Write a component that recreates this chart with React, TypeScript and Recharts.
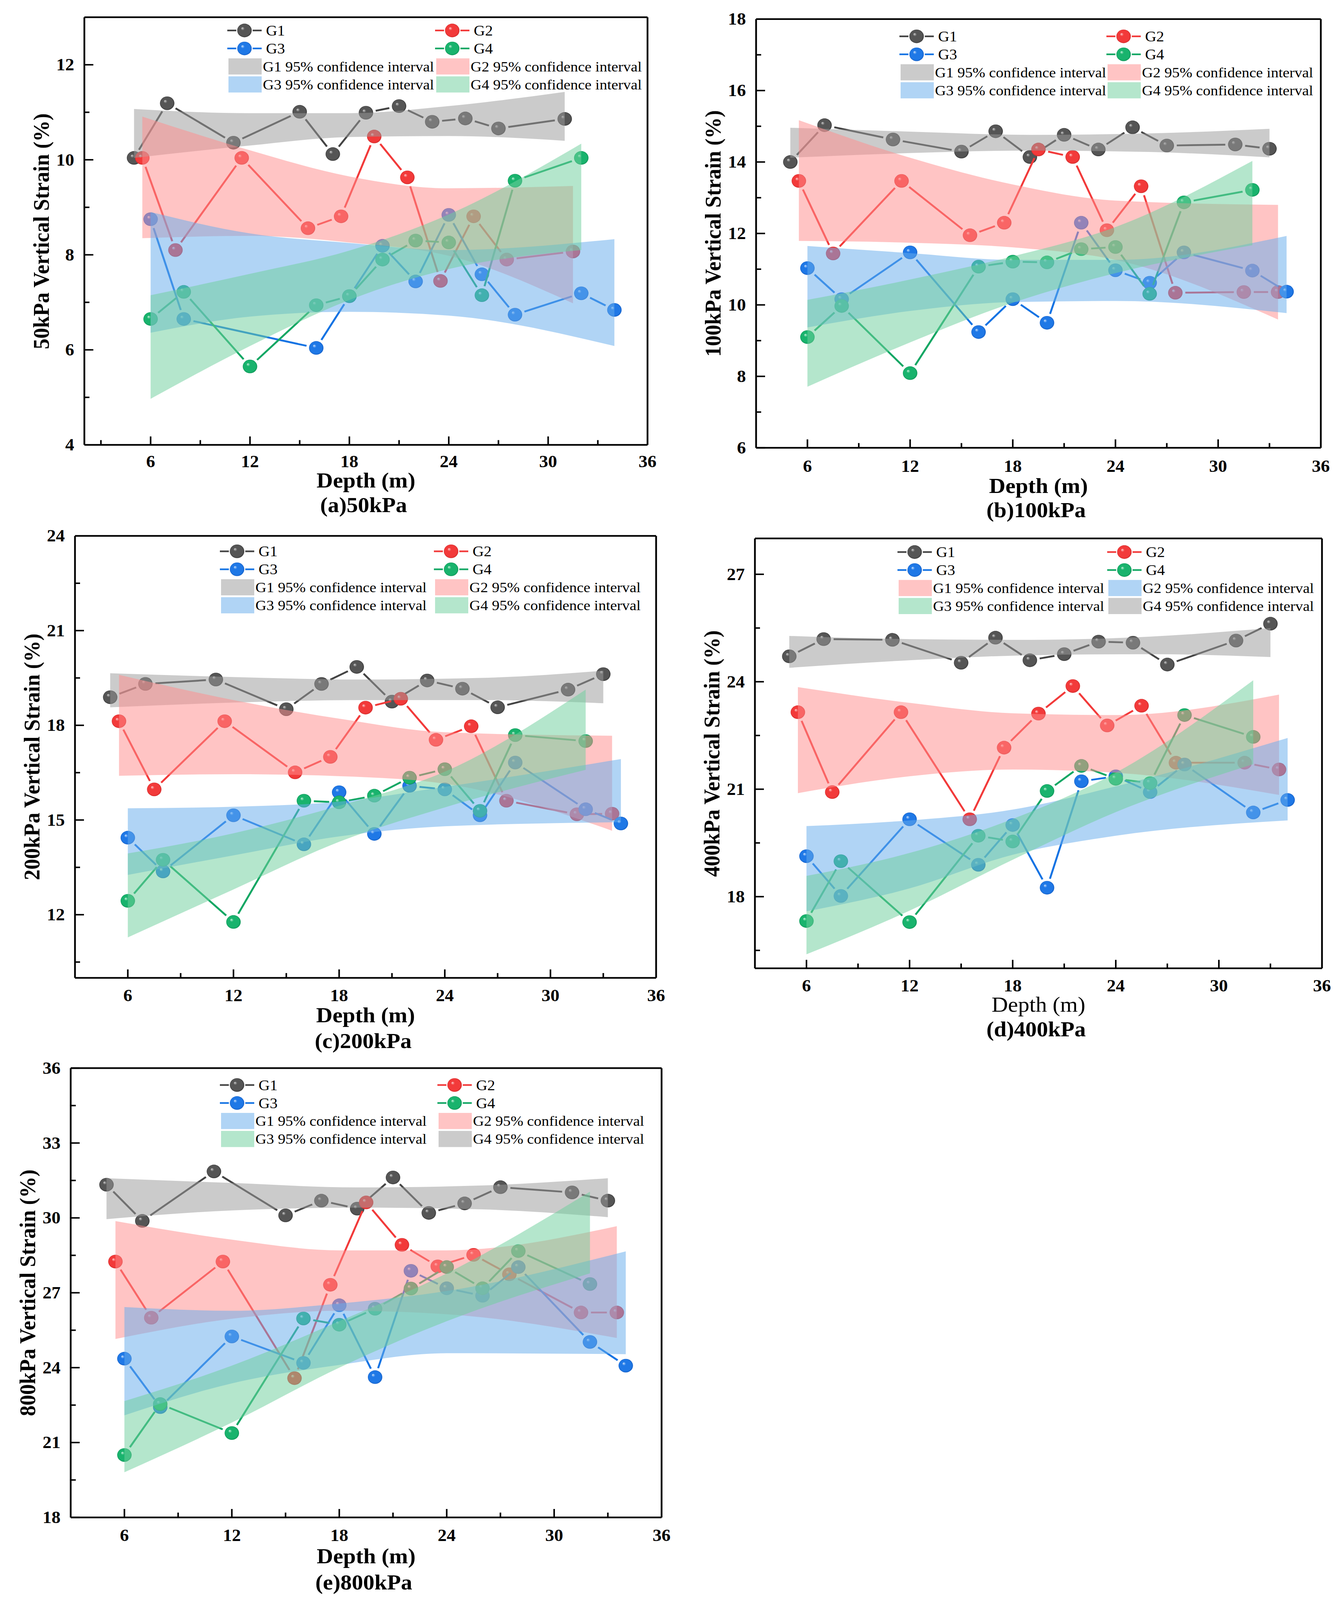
import React from 'react';
import { ComposedChart, Line, Area, XAxis, YAxis, ReferenceLine, Legend } from 'recharts';

const FONT = '"Liberation Serif", "Times New Roman", serif';

// depths (m) of each group
const depthG1 = [5, 7, 11, 15, 17, 19, 21, 23, 25, 27, 31, 33];
const depthG2 = [5.5, 7.5, 11.5, 15.5, 17.5, 19.5, 21.5, 23.5, 25.5, 27.5, 31.5, 33.5];
const depthG3 = [6, 8, 12, 16, 18, 20, 22, 24, 26, 28, 32, 34];
const depthG4 = [6, 8, 12, 16, 18, 20, 22, 24, 26, 28, 32];
const depthG1a = [5, 7, 11, 15, 17, 19, 21, 23, 25, 27, 31];
const depthG2a = [5.5, 7.5, 11.5, 15.5, 17.5, 19.5, 21.5, 23.5, 25.5, 27.5, 31.5];
const depthG3a = [6, 8, 16, 18, 20, 22, 24, 26, 28, 32, 34];

// depths where the confidence bands were read
const bandXG1 = [5, 12, 19, 26, 33];
const bandXG1a = [5, 12, 18, 24, 31];
const bandXG2 = [5.5, 12, 18, 24, 33.5];
const bandXG2a = [5.5, 12, 18, 24, 31.5];
const bandXG3 = [6, 12, 18, 24, 34];
const bandXG4 = [6, 12, 18, 24, 32];

// (a) 50kPa
const a_g1 = [10.04, 11.19, 10.36, 11.01, 10.12, 10.99, 11.13, 10.8, 10.87, 10.66, 10.86];
const a_g2 = [10.04, 8.1, 10.04, 8.56, 8.81, 10.49, 9.63, 7.45, 8.81, 7.9, 8.07];
const a_g3 = [8.75, 6.65, 6.04, 7.13, 8.19, 7.44, 8.84, 7.59, 6.74, 7.19, 6.84];
const a_g4 = [6.65, 7.22, 5.65, 6.94, 7.13, 7.9, 8.3, 8.26, 7.15, 9.56, 10.04];
const a_g1Lo = [10.04, 10.3, 10.48, 10.5, 10.4];
const a_g1Hi = [11.07, 10.98, 10.98, 11.13, 11.43];
const a_g2Lo = [8.35, 8.4, 8.26, 7.98, 6.98];
const a_g2Hi = [10.91, 10.2, 9.65, 9.4, 9.45];
const a_g3Lo = [6.36, 6.7, 6.8, 6.72, 6.08];
const a_g3Hi = [8.9, 8.45, 8.25, 8.1, 8.33];
const a_g4Lo = [4.97, 6.08, 7.05, 7.7, 8.1];
const a_g4Hi = [7.15, 7.6, 8.09, 8.85, 10.34];

// (b) 100kPa
const b_g1 = [14.0, 15.03, 14.63, 14.29, 14.86, 14.14, 14.76, 14.35, 14.97, 14.46, 14.49, 14.37];
const b_g2 = [13.47, 11.44, 13.47, 11.95, 12.3, 14.35, 14.14, 12.09, 13.32, 10.34, 10.36, 10.36];
const b_g3 = [11.03, 10.16, 11.47, 9.24, 10.16, 9.5, 12.3, 10.97, 10.62, 11.47, 10.96, 10.37];
const b_g4 = [9.1, 9.97, 8.09, 11.07, 11.21, 11.19, 11.56, 11.62, 10.31, 12.87, 13.22];
const b_g1Lo = [14.12, 14.25, 14.32, 14.28, 14.13];
const b_g1Hi = [14.96, 14.85, 14.76, 14.8, 14.93];
const b_g2Lo = [11.79, 11.74, 11.61, 11.26, 9.59];
const b_g2Hi = [15.17, 14.12, 13.37, 12.92, 12.8];
const b_g3Lo = [9.37, 9.83, 10.08, 10.11, 9.77];
const b_g3Hi = [11.65, 11.45, 11.26, 11.26, 11.93];
const b_g4Lo = [7.71, 8.95, 10.06, 10.89, 11.67];
const b_g4Hi = [10.14, 10.71, 11.36, 12.18, 14.03];

// (c) 200kPa
const c_g1 = [18.89, 19.31, 19.45, 18.51, 19.31, 19.85, 18.75, 19.42, 19.16, 18.57, 19.13, 19.62];
const c_g2 = [18.13, 15.97, 18.13, 16.51, 17.0, 18.56, 18.84, 17.54, 17.97, 15.61, 15.18, 15.2];
const c_g3 = [14.44, 13.37, 15.15, 14.23, 15.88, 14.56, 16.08, 15.97, 15.15, 16.82, 15.34, 14.89];
const c_g4 = [12.44, 13.74, 11.77, 15.61, 15.56, 15.77, 16.34, 16.61, 15.29, 17.69, 17.5];
const c_g1Lo = [18.57, 18.72, 18.8, 18.8, 18.7];
const c_g1Hi = [19.65, 19.53, 19.45, 19.5, 19.73];
const c_g2Lo = [16.4, 16.45, 16.39, 16.15, 14.66];
const c_g2Hi = [19.6, 18.8, 18.21, 17.78, 17.67];
const c_g3Lo = [13.26, 13.88, 14.48, 14.8, 14.93];
const c_g3Hi = [15.37, 15.42, 15.58, 16.05, 16.93];
const c_g4Lo = [11.28, 12.8, 14.31, 15.4, 16.59];
const c_g4Hi = [13.94, 14.58, 15.45, 16.53, 19.13];

// (d) 400kPa
const d_g1 = [24.71, 25.19, 25.17, 24.53, 25.23, 24.6, 24.77, 25.12, 25.09, 24.48, 25.15, 25.62];
const d_g2 = [23.15, 20.92, 23.15, 20.16, 22.16, 23.11, 23.88, 22.78, 23.33, 21.74, 21.74, 21.55];
const d_g3 = [19.13, 18.02, 20.16, 18.89, 20.0, 18.25, 21.22, 21.36, 20.92, 21.69, 20.35, 20.7];
const d_g4 = [17.32, 18.99, 17.29, 19.7, 19.54, 20.95, 21.65, 21.29, 21.17, 23.07, 22.46];
const d_g1Lo = [24.39, 24.6, 24.74, 24.77, 24.69];
const d_g1Hi = [25.28, 25.19, 25.17, 25.26, 25.5];
const d_g2Lo = [20.89, 21.36, 21.55, 21.46, 20.84];
const d_g2Hi = [23.85, 23.41, 23.12, 23.07, 23.64];
const d_g3Lo = [17.59, 18.23, 19.17, 19.7, 20.13];
const d_g3Hi = [19.97, 20.13, 20.43, 21.08, 22.43];
const d_g4Lo = [16.39, 17.61, 19.03, 20.36, 21.7];
const d_g4Hi = [18.58, 19.22, 20.17, 21.46, 24.04];

// (e) 800kPa
const e_g1 = [31.33, 29.88, 31.86, 30.1, 30.69, 30.37, 31.62, 30.2, 30.58, 31.23, 31.02, 30.69];
const e_g2 = [28.25, 26.0, 28.25, 23.58, 27.32, 30.62, 28.92, 28.06, 28.52, 27.74, 26.21, 26.21];
const e_g3 = [24.36, 22.42, 25.25, 24.19, 26.5, 23.62, 27.88, 27.18, 26.88, 28.03, 25.03, 24.08];
const e_g4 = [20.5, 22.54, 21.38, 25.97, 25.72, 26.36, 27.17, 28.03, 27.18, 28.67, 27.35];
const e_g1Lo = [29.95, 30.3, 30.41, 30.34, 30.03];
const e_g1Hi = [31.59, 31.4, 31.22, 31.3, 31.59];
const e_g2Lo = [25.15, 25.96, 26.28, 26.14, 25.19];
const e_g2Hi = [29.87, 29.13, 28.7, 28.7, 29.67];
const e_g3Lo = [22.09, 23.37, 24.11, 24.58, 24.54];
const e_g3Hi = [26.43, 26.28, 26.57, 27.07, 28.66];
const e_g4Lo = [19.81, 21.8, 24.0, 25.86, 27.78];
const e_g4Hi = [22.66, 24.08, 25.86, 27.78, 31.05];

// tick labels
const xMajor = [6, 12, 18, 24, 30, 36];
const xMinor = [3, 9, 15, 21, 27, 33];
const groups = ['G1', 'G2', 'G3', 'G4'];

const LINE_COLORS = ['#444444', '#f23a3a', '#1473e3', '#13a764'];
const BAND_COLORS = ['#9b9b9b', '#ff8d8d', '#67acec', '#6fcf9d'];
const BAND_OPACITY = 0.52;
const SPHERE = [
  ['#d4d4d4', '#555555', '#3a3a3a'],
  ['#ffd2d2', '#f23a3a', '#d42a2a'],
  ['#d0e6ff', '#1f78e6', '#1560c8'],
  ['#ccf4df', '#19b36d', '#0f9658'],
];
const R_DOT = 18.5;
const GAP = R_DOT + 7;

type Pt = { x: number; y: number };
type BandPt = { x: number; band: [number, number] };

const toPoints = (xs: number[], ys: number[]): Pt[] => xs.map((x, i) => ({ x, y: ys[i] }));
const toBand = (xs: number[], lo: number[], hi: number[]): BandPt[] =>
  xs.map((x, i) => ({ x, band: [lo[i], hi[i]] }));

interface PanelCfg {
  id: string;
  box: { L: number; T: number; R: number; B: number };
  xDomain: [number, number];
  yDomain: [number, number];
  yMajor: number[];
  yMinor: number[];
  lines: Pt[][];
  bands: BandPt[][];
  swatch: number[];
  yTitle: string;
  xTitleBold: boolean;
  caption: string;
  tickDy: number;
  depthDy: number;
  capDy: number;
  legendTop: number;
  legendCols: [number, number];
}

const panels: PanelCfg[] = [
  {
    id: 'a',
    box: { L: 216, T: 47, R: 1658, B: 1212 },
    xDomain: [2, 36],
    yDomain: [4, 13],
    yMajor: [4, 6, 8, 10, 12],
    yMinor: [5, 7, 9, 11],
    lines: [toPoints(depthG1a, a_g1), toPoints(depthG2a, a_g2), toPoints(depthG3a, a_g3), toPoints(depthG4, a_g4)],
    bands: [
      toBand(bandXG1a, a_g1Lo, a_g1Hi),
      toBand(bandXG2a, a_g2Lo, a_g2Hi),
      toBand(bandXG3, a_g3Lo, a_g3Hi),
      toBand(bandXG4, a_g4Lo, a_g4Hi),
    ],
    swatch: [0, 1, 2, 3],
    yTitle: '50kPa Vertical Strain (%)',
    xTitleBold: true,
    caption: '(a)50kPa',
    tickDy: 45,
    depthDy: 97,
    capDy: 164,
    legendTop: 36,
    legendCols: [366, 898],
  },
  {
    id: 'b',
    box: { L: 1936, T: 52, R: 3382, B: 1220 },
    xDomain: [3, 36],
    yDomain: [6, 18],
    yMajor: [6, 8, 10, 12, 14, 16, 18],
    yMinor: [7, 9, 11, 13, 15, 17],
    lines: [toPoints(depthG1, b_g1), toPoints(depthG2, b_g2), toPoints(depthG3, b_g3), toPoints(depthG4, b_g4)],
    bands: [
      toBand(bandXG1, b_g1Lo, b_g1Hi),
      toBand(bandXG2, b_g2Lo, b_g2Hi),
      toBand(bandXG3, b_g3Lo, b_g3Hi),
      toBand(bandXG4, b_g4Lo, b_g4Hi),
    ],
    swatch: [0, 1, 2, 3],
    yTitle: '100kPa Vertical Strain (%)',
    xTitleBold: true,
    caption: '(b)100kPa',
    tickDy: 50,
    depthDy: 104,
    capDy: 170,
    legendTop: 47,
    legendCols: [367, 897],
  },
  {
    id: 'c',
    box: { L: 192, T: 1460, R: 1680, B: 2664 },
    xDomain: [3, 36],
    yDomain: [10, 24],
    yMajor: [12, 15, 18, 21, 24],
    yMinor: [10.5, 13.5, 16.5, 19.5, 22.5],
    lines: [toPoints(depthG1, c_g1), toPoints(depthG2, c_g2), toPoints(depthG3, c_g3), toPoints(depthG4, c_g4)],
    bands: [
      toBand(bandXG1, c_g1Lo, c_g1Hi),
      toBand(bandXG2, c_g2Lo, c_g2Hi),
      toBand(bandXG3, c_g3Lo, c_g3Hi),
      toBand(bandXG4, c_g4Lo, c_g4Hi),
    ],
    swatch: [0, 1, 2, 3],
    yTitle: '200kPa Vertical Strain (%)',
    xTitleBold: true,
    caption: '(c)200kPa',
    tickDy: 48,
    depthDy: 102,
    capDy: 172,
    legendTop: 42,
    legendCols: [371, 919],
  },
  {
    id: 'd',
    box: { L: 1933, T: 1467, R: 3385, B: 2638 },
    xDomain: [3, 36],
    yDomain: [16, 28],
    yMajor: [18, 21, 24, 27],
    yMinor: [16.5, 19.5, 22.5, 25.5],
    lines: [toPoints(depthG1, d_g1), toPoints(depthG2, d_g2), toPoints(depthG3, d_g3), toPoints(depthG4, d_g4)],
    bands: [
      toBand(bandXG1, d_g1Lo, d_g1Hi),
      toBand(bandXG2, d_g2Lo, d_g2Hi),
      toBand(bandXG3, d_g3Lo, d_g3Hi),
      toBand(bandXG4, d_g4Lo, d_g4Hi),
    ],
    swatch: [1, 2, 3, 0],
    yTitle: '400kPa Vertical Strain (%)',
    xTitleBold: false,
    caption: '(d)400kPa',
    tickDy: 48,
    depthDy: 99,
    capDy: 166,
    legendTop: 37,
    legendCols: [365, 902],
  },
  {
    id: 'e',
    box: { L: 181, T: 2910, R: 1694, B: 4134 },
    xDomain: [3, 36],
    yDomain: [18, 36],
    yMajor: [18, 21, 24, 27, 30, 33, 36],
    yMinor: [19.5, 22.5, 25.5, 28.5, 31.5, 34.5],
    lines: [toPoints(depthG1, e_g1), toPoints(depthG2, e_g2), toPoints(depthG3, e_g3), toPoints(depthG4, e_g4)],
    bands: [
      toBand(bandXG1, e_g1Lo, e_g1Hi),
      toBand(bandXG2, e_g2Lo, e_g2Hi),
      toBand(bandXG3, e_g3Lo, e_g3Hi),
      toBand(bandXG4, e_g4Lo, e_g4Hi),
    ],
    swatch: [2, 1, 3, 0],
    yTitle: '800kPa Vertical Strain (%)',
    xTitleBold: true,
    caption: '(e)800kPa',
    tickDy: 49,
    depthDy: 106,
    capDy: 177,
    legendTop: 46,
    legendCols: [382, 939],
  },
];

const AXIS_W = 4.5;
const M_TOP = 40;
const M_RIGHT = 30;
const Y_W = 200;
const X_H = 80;

function SphereDefs({ id }: { id: string }) {
  return (
    <defs>
      {SPHERE.map((c, i) => (
        <radialGradient key={i} id={`${id}-s${i}`} cx="50%" cy="50%" r="50%" fx="34%" fy="32%">
          <stop offset="0%" stopColor={c[0]} />
          <stop offset="26%" stopColor={c[1]} />
          <stop offset="85%" stopColor={c[1]} />
          <stop offset="100%" stopColor={c[2]} />
        </radialGradient>
      ))}
    </defs>
  );
}

// each dot draws its sphere plus the segment to the next point, leaving a gap round the symbols
const lineDot = (gid: string, color: string) => (props: any) => {
  const { cx, cy, index, points } = props;
  if (cx == null || cy == null) return <g key={`n-${index}`} />;
  const next = points ? points[index + 1] : null;
  let seg = null;
  if (next && next.x != null && next.y != null) {
    const dx = next.x - cx;
    const dy = next.y - cy;
    const len = Math.hypot(dx, dy);
    if (len > 2 * GAP) {
      const ux = dx / len;
      const uy = dy / len;
      seg = (
        <line
          x1={cx + ux * GAP}
          y1={cy + uy * GAP}
          x2={next.x - ux * GAP}
          y2={next.y - uy * GAP}
          stroke={color}
          strokeWidth={5}
        />
      );
    }
  }
  return (
    <g key={`d-${index}`}>
      {seg}
      <circle cx={cx} cy={cy} r={R_DOT} fill={`url(#${gid})`} />
    </g>
  );
};

function XTick(props: any) {
  const { x, y, payload, dy } = props;
  const major = xMajor.includes(payload.value);
  return (
    <g>
      <line x1={x} x2={x} y1={y} y2={y - (major ? 23 : 13)} stroke="#000" strokeWidth={4} />
      {major && (
        <text x={x} y={y + dy} textAnchor="middle" dominantBaseline="central" fontFamily={FONT} fontWeight="bold" fontSize={46} fill="#000">
          {payload.value}
        </text>
      )}
    </g>
  );
}

function YTick(props: any) {
  const { x, y, payload, major } = props;
  const isMajor = major.includes(payload.value);
  return (
    <g>
      <line x1={x} x2={x + (isMajor ? 23 : 13)} y1={y} y2={y} stroke="#000" strokeWidth={4} />
      {isMajor && (
        <text x={x - 26} y={y} textAnchor="end" dominantBaseline="central" fontFamily={FONT} fontWeight="bold" fontSize={46} fill="#000">
          {payload.value}
        </text>
      )}
    </g>
  );
}

function PanelLegend({ cfg, width, gid }: { cfg: PanelCfg; width: number; gid: string }) {
  const rowGap = 49;
  const rows = [0, 1, 2, 3].map((i) => cfg.legendTop + i * rowGap);
  const series = (g: number, c: number, y: number) => (
    <g key={`s${g}`}>
      <line x1={c} x2={c + 23} y1={y} y2={y} stroke={LINE_COLORS[g]} strokeWidth={4.5} />
      <line x1={c + 65} x2={c + 88} y1={y} y2={y} stroke={LINE_COLORS[g]} strokeWidth={4.5} />
      <circle cx={c + 44} cy={y} r={R_DOT} fill={`url(#${gid}-s${g})`} />
      <text x={c + 99} y={y} dominantBaseline="central" fontFamily={FONT} fontSize={40} fill="#000">
        {groups[g]}
      </text>
    </g>
  );
  const swatch = (g: number, c: number, y: number) => (
    <g key={`w${g}`}>
      <rect x={c + 3} y={y - 22} width={85} height={44} fill={BAND_COLORS[cfg.swatch[g]]} fillOpacity={BAND_OPACITY} />
      <text x={c + 91} y={y} dominantBaseline="central" fontFamily={FONT} fontSize={39} fill="#000">
        {`${groups[g]} 95% confidence interval`}
      </text>
    </g>
  );
  const [c1, c2] = cfg.legendCols;
  return (
    <svg width={width} height={260} style={{ overflow: 'visible', display: 'block' }}>
      <SphereDefs id={gid} />
      {series(0, c1, rows[0])}
      {series(1, c2, rows[0])}
      {series(2, c1, rows[1])}
      {series(3, c2, rows[1])}
      {swatch(0, c1, rows[2])}
      {swatch(1, c2, rows[2])}
      {swatch(2, c1, rows[3])}
      {swatch(3, c2, rows[3])}
    </svg>
  );
}

function Panel({ cfg }: { cfg: PanelCfg }) {
  const { L, T, R, B } = cfg.box;
  const plotW = R - L;
  const plotH = B - T;
  const width = plotW + Y_W + M_RIGHT;
  const height = plotH + M_TOP + X_H;
  const yTicks = [...cfg.yMajor, ...cfg.yMinor].sort((p, q) => p - q);
  const xTicks = [...xMajor, ...xMinor].filter((v) => v >= cfg.xDomain[0]).sort((p, q) => p - q);
  const layer: React.CSSProperties = { position: 'absolute', left: L - Y_W, top: T - M_TOP };
  const titleStyle: React.CSSProperties = {
    position: 'absolute',
    whiteSpace: 'nowrap',
    fontFamily: FONT,
    fontSize: 58,
    fontWeight: 'bold',
    color: '#000',
    lineHeight: 1,
  };
  return (
    <>
      {/* lines, symbols and axes */}
      <div style={layer}>
        <ComposedChart width={width} height={height} margin={{ top: M_TOP, right: M_RIGHT, bottom: 0, left: 0 }}>
          <SphereDefs id={cfg.id} />
          <XAxis
            type="number"
            dataKey="x"
            domain={cfg.xDomain}
            allowDataOverflow
            ticks={xTicks}
            interval={0}
            height={X_H}
            tickSize={0}
            tickMargin={0}
            tickLine={false}
            axisLine={{ stroke: '#000', strokeWidth: AXIS_W }}
            tick={(p: any) => <XTick {...p} dy={cfg.tickDy} />}
          />
          <YAxis
            type="number"
            domain={cfg.yDomain}
            allowDataOverflow
            ticks={yTicks}
            interval={0}
            width={Y_W}
            tickSize={0}
            tickMargin={0}
            tickLine={false}
            axisLine={{ stroke: '#000', strokeWidth: AXIS_W }}
            tick={(p: any) => <YTick {...p} major={cfg.yMajor} />}
          />
          {cfg.lines.map((pts, g) => (
            <Line
              key={`line-${g}`}
              data={pts}
              dataKey="y"
              type="linear"
              stroke="none"
              dot={lineDot(`${cfg.id}-s${g}`, LINE_COLORS[g])}
              activeDot={false}
              isAnimationActive={false}
              legendType="none"
            />
          ))}
          <ReferenceLine x={cfg.xDomain[1]} stroke="#000" strokeWidth={AXIS_W} />
          <ReferenceLine y={cfg.yDomain[1]} stroke="#000" strokeWidth={AXIS_W} />
        </ComposedChart>
      </div>
      {/* confidence bands drawn over the lines, plus the legend */}
      <div style={layer}>
        <ComposedChart width={width} height={height} margin={{ top: M_TOP, right: M_RIGHT, bottom: X_H, left: Y_W }}>
          <XAxis type="number" dataKey="x" domain={cfg.xDomain} allowDataOverflow hide />
          <YAxis type="number" domain={cfg.yDomain} allowDataOverflow hide />
          {cfg.bands.map((pts, g) => (
            <Area
              key={`band-${g}`}
              data={pts}
              dataKey="band"
              type="monotone"
              stroke="none"
              fill={BAND_COLORS[g]}
              fillOpacity={BAND_OPACITY}
              dot={false}
              activeDot={false}
              isAnimationActive={false}
              legendType="none"
            />
          ))}
          <Legend
            layout="vertical"
            align="center"
            verticalAlign="middle"
            wrapperStyle={{ left: Y_W, top: M_TOP, width: plotW, height: 260 }}
            content={() => <PanelLegend cfg={cfg} width={plotW} gid={`${cfg.id}-L`} />}
          />
        </ComposedChart>
      </div>
      <div
        style={{
          ...titleStyle,
          left: L - 110,
          top: (T + B) / 2,
          transform: 'translate(-50%, -50%) rotate(-90deg)',
        }}
      >
        {cfg.yTitle}
      </div>
      <div
        style={{
          ...titleStyle,
          fontWeight: cfg.xTitleBold ? 'bold' : 'normal',
          left: (L + R) / 2,
          top: B + cfg.depthDy,
          transform: 'translate(-50%, -50%)',
        }}
      >
        Depth (m)
      </div>
      <div
        style={{
          ...titleStyle,
          left: (L + R) / 2 - 6,
          top: B + cfg.capDy,
          transform: 'translate(-50%, -50%)',
        }}
      >
        {cfg.caption}
      </div>
    </>
  );
}

const PAGE_W = 3426;
const PAGE_H = 4359;

export default function App() {
  // the visible viewport can be shorter than the figure; squeeze it vertically so all of it shows
  const vh = typeof window !== 'undefined' ? window.innerHeight : PAGE_H;
  const sy = Math.min(1, vh / PAGE_H);
  return (
    <div style={{ position: 'absolute', left: 0, top: 0, width: PAGE_W, height: PAGE_H * sy, overflow: 'hidden', background: '#fff' }}>
      <div style={{ position: 'absolute', left: 0, top: 0, width: PAGE_W, height: PAGE_H, transform: `scale(1, ${sy})`, transformOrigin: '0 0' }}>
        {panels.map((p) => (
          <Panel key={p.id} cfg={p} />
        ))}
      </div>
    </div>
  );
}
